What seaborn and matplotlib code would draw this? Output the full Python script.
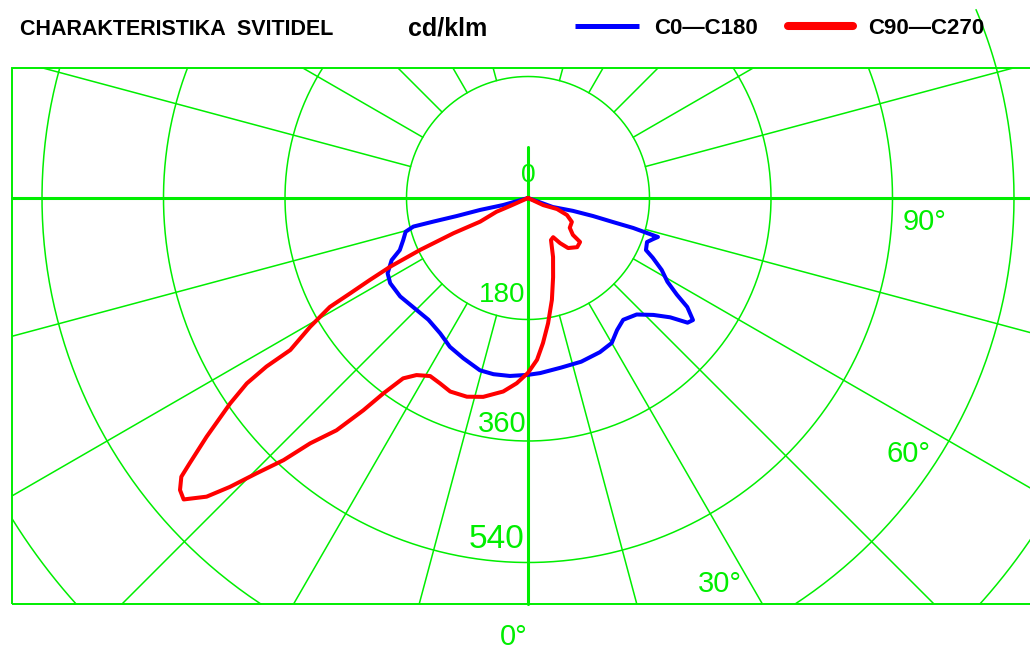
import numpy as np
import pandas as pd
import matplotlib
matplotlib.use('Agg')
import matplotlib.pyplot as plt
import seaborn as sns
from matplotlib.patches import Rectangle
from matplotlib.lines import Line2D

sns.set_theme(style='white')
plt.rcParams['font.family'] = ['Liberation Sans', 'DejaVu Sans']

# ---- data: gamma from nadir (deg), intensity (cd/klm) ----
c0_gamma = [0, 4, 11, 18, 25, 30, 34, 38, 43, 47, 50, 52, 53.5, 55.6, 57, 59, 61.7,
            64.4, 66.2, 69.7, 71.8, 73.3, 73.6, 74.1, 74.2, 74.5, 74, 70, 90]
c0_cd = [262, 260, 256, 255, 252, 248, 236, 229, 236, 254, 275, 300, 304, 286, 263, 241,
         225, 205, 191, 188, 195, 201, 184, 162, 131, 100, 69, 39, 0]

c180_gamma = [0, 5.8, 11.1, 15.6, 22, 27.7, 33, 39.3, 44.8, 52.4, 58.3, 61.8, 65.5,
              67.9, 71.4, 74.6, 76, 76, 75.8, 76, 74.2, 90]
c180_cd = [262, 265, 266, 265, 256, 249, 239, 233, 234, 239, 240, 236, 222, 205, 195,
           188, 175, 145, 109, 73, 38, 0]

c90_gamma = [0, 3.2, 5.9, 9.1, 13.2, 17.6, 23, 28.7, 32.7, 35.4, 38.7, 45, 49.8, 50.6,
             54.5, 61.4, 66.4, 69.2, 65, 90]
c90_cd = [259, 240, 216, 188, 155, 123, 95, 71, 69, 82, 95, 103, 101, 86, 76, 74, 63,
          46, 25, 0]

c270_gamma = [0, 3.5, 7.3, 12.7, 17.1, 21.9, 25.4, 28.8, 32.2, 34.7, 36.5, 37.8, 39.5,
              41.6, 43, 44.6, 45.9, 47.1, 48.8, 50, 51.2, 51.9, 53.4, 55.4, 56.6, 57.2,
              57.4, 59.4, 61.2, 61.8, 62.6, 63.5, 64.3, 64.7, 63.7, 66.4, 66, 90]
c270_cd = [259, 275, 289, 302, 308, 309, 304, 301, 310, 325, 360, 398, 446, 486, 531,
           573, 615, 650, 678, 673, 659, 637, 593, 536, 499, 461, 418, 375, 335, 299,
           264, 228, 178, 122, 79, 51, 29, 0]

rings = [180, 360, 540, 720, 900]
ring_labels = ['180', '360', '540']
angle_labels = ['0°', '30°', '60°', '90°']

GREEN = '#00ee00'
BLUE = '#0000ff'
RED = '#ff0000'

# pixel geometry of the drawing
W, H = 1030, 650
CX, CY = 528, 198
U = 180 / 121.5          # cd/klm per pixel


def px(x, y):
    return (x - CX) * U, (CY - y) * U


def to_xy(gamma, cd, side):
    g = np.radians(gamma)
    cd = np.asarray(cd, float)
    return side * cd * np.sin(g), -cd * np.cos(g)


def closed_curve(lg, lcd, rg, rcd):
    xl, yl = to_xy(lg, lcd, -1)
    xr, yr = to_xy(rg, rcd, 1)
    return pd.DataFrame({'x': np.r_[xl[::-1], xr], 'y': np.r_[yl[::-1], yr]})


fig = plt.figure(figsize=(W / 100, H / 100), dpi=100)
ax = fig.add_axes([0, 0, 1, 1])
x0, y0 = px(0, H)
x1, y1 = px(W, 0)
ax.set_xlim(x0, x1)
ax.set_ylim(y0, y1)
ax.axis('off')

bl, bt = px(12, 68)
br, bb = px(1032, 604)
box = Rectangle((bl, bb), br - bl, bt - bb, fill=False, ec=GREEN, lw=1.4, zorder=2)
ax.add_patch(box)

# circles
t = np.linspace(0, 2 * np.pi, 721)
for r in rings:
    ln, = ax.plot(r * np.cos(t), r * np.sin(t), color=GREEN, lw=1.1, zorder=1)
    ln.set_clip_path(box)

# leftover arc above the frame on the right
ta = np.radians(np.linspace(15.5, 22.8, 30))
ax.plot(720 * np.cos(ta), 720 * np.sin(ta), color=GREEN, lw=1.1, clip_on=False)

# radial lines every 15 degrees, starting at the first ring
for a in range(0, 360, 15):
    if a % 90 == 0:
        continue
    ar = np.radians(a)
    ln, = ax.plot([180 * np.cos(ar), 1400 * np.cos(ar)],
                  [180 * np.sin(ar), 1400 * np.sin(ar)], color=GREEN, lw=1.1, zorder=1)
    ln.set_clip_path(box)

# main axes
ax.plot([bl, br], [0, 0], color=GREEN, lw=2.2, zorder=2)
ax.plot([0, 0], [px(0, 147)[1], bb], color=GREEN, lw=2.2, zorder=2)

# curves
blue = closed_curve(c180_gamma, c180_cd, c0_gamma, c0_cd)
red = closed_curve(c270_gamma, c270_cd, c90_gamma, c90_cd)
sns.lineplot(data=blue, x='x', y='y', sort=False, estimator=None, ax=ax,
             color=BLUE, lw=2.9, zorder=4, solid_joinstyle='round')
sns.lineplot(data=red, x='x', y='y', sort=False, estimator=None, ax=ax,
             color=RED, lw=2.9, zorder=5, solid_joinstyle='round')
ax.set_xlabel('')
ax.set_ylabel('')

# scale labels
tkw = dict(color=GREEN, family=['Liberation Sans', 'DejaVu Sans'])
ax.text(*px(528, 182), '0', ha='center', va='baseline', fontsize=19, **tkw)
for lab, (xx, yy, fs) in zip(ring_labels, [(525, 302, 20), (527, 432, 21), (524, 548, 24)]):
    ax.text(*px(xx, yy), lab, ha='right', va='baseline', fontsize=fs, **tkw)
for lab, (xx, yy) in zip(angle_labels, [(500, 645), (698, 592), (887, 462), (903, 230)]):
    ax.text(*px(xx, yy), lab, ha='left', va='baseline', fontsize=21, **tkw)

# header
hkw = dict(color='black', fontweight='bold', family=['Liberation Sans', 'DejaVu Sans'])
fig.text(20 / W, 1 - 35 / H, 'CHARAKTERISTIKA  SVITIDEL', ha='left', va='baseline',
         fontsize=15.5, **hkw)
fig.text(408 / W, 1 - 35 / H, 'cd/klm', ha='left', va='baseline', fontsize=18, **hkw)

handles = [Line2D([], [], color=BLUE, lw=3.6, solid_capstyle='butt'),
           Line2D([], [], color=RED, lw=5.8, solid_capstyle='round')]
fig.legend(handles, ['C0—C180', 'C90—C270'], loc='center left',
           bbox_to_anchor=(575 / W, 1 - 28 / H), ncol=2, frameon=False,
           handlelength=2.9, handletextpad=0.68, columnspacing=1.35,
           borderpad=0, borderaxespad=0, labelcolor='black',
           prop=dict(family=['Liberation Sans', 'DejaVu Sans'], weight='bold', size=16))

fig.savefig('out.png', dpi=100)
